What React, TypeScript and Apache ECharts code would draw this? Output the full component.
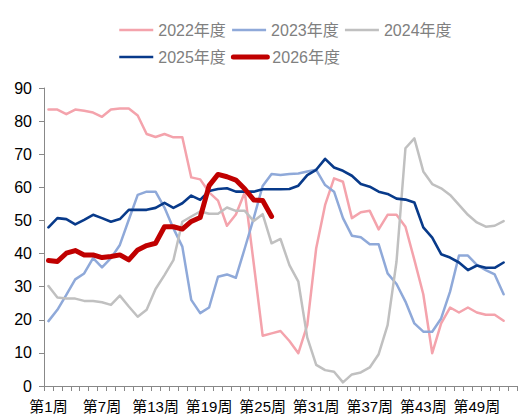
import React, { useEffect, useRef } from "react";
import * as echarts from "echarts";

// Week categories 第1周 … 第53周
const weeks: string[] = Array.from({ length: 53 }, (_, i) => `第${i + 1}周`);

const seriesNames = ["2022年度", "2023年度", "2024年度", "2025年度", "2026年度"];

const v2022 = [
  83.5, 83.5, 82.1, 83.5, 83.1, 82.6, 81.3, 83.5, 83.8, 83.8, 81.7, 76.1, 75.2,
  76.1, 75.1, 75.1, 63.0, 62.4, 58.5, 56.0, 48.4, 51.8, 58.5, 37.0, 15.2, 15.9,
  16.6, 13.6, 9.9, 18.4, 41.6, 54.7, 62.7, 61.7, 50.7, 52.5, 52.9, 47.3, 51.7,
  51.7, 48.1, 38.1, 27.7, 9.9, 18.9, 23.7, 22.2, 23.7, 22.2, 21.5, 21.5, 19.7,
];
const v2023 = [
  19.6, 23.0, 27.5, 32.2, 34.0, 38.6, 35.8, 38.6, 42.6, 50.2, 57.7, 58.7, 58.7,
  53.9, 47.6, 42.1, 26.0, 22.0, 23.7, 33.0, 33.7, 32.7, 41.6, 50.7, 60.4, 64.0,
  63.7, 64.0, 64.2, 64.8, 65.3, 60.7, 58.7, 50.7, 45.4, 44.9, 42.8, 42.8, 34.0,
  30.8, 25.5, 18.9, 16.4, 16.4, 20.4, 28.5, 39.4, 39.4, 36.6, 35.0, 33.7, 27.7,
];
const v2024 = [
  30.2, 26.7, 26.4, 26.4, 25.7, 25.7, 25.3, 24.5, 27.3, 24.0, 20.9, 23.0, 29.3,
  33.5, 38.0, 49.6, 51.2, 52.7, 52.0, 52.0, 53.9, 52.9, 52.9, 49.8, 51.9, 43.1,
  44.4, 36.5, 31.5, 14.6, 6.4, 4.8, 4.3, 1.1, 3.5, 4.1, 5.6, 9.6, 18.4, 37.6,
  71.8, 74.8, 64.8, 61.0, 59.7, 57.7, 54.7, 51.7, 49.4, 48.1, 48.4, 49.8,
];
const v2025 = [
  47.9, 50.7, 50.4, 48.8, 50.2, 51.7, 50.7, 49.6, 50.4, 53.2, 53.2, 53.2, 53.8,
  55.3, 53.8, 55.2, 57.5, 56.2, 58.9, 59.5, 59.7, 58.7, 58.7, 58.7, 59.4, 59.4,
  59.4, 59.5, 60.5, 63.7, 65.3, 68.6, 66.0, 65.0, 63.5, 61.0, 60.2, 58.7, 58.0,
  56.6, 56.3, 55.4, 47.9, 44.8, 39.8, 38.8, 37.3, 35.0, 36.4, 35.7, 35.7, 37.3,
];
const v2026 = [
  37.9, 37.6, 40.1, 40.9, 39.6, 39.6, 38.8, 39.1, 39.6, 38.1, 41.1, 42.4, 43.1,
  48.1, 48.1, 47.4, 49.7, 50.9, 60.5, 63.9, 63.2, 62.2, 59.5, 56.2, 56.0, 51.2,
];

const seriesValues = [v2022, v2023, v2024, v2025, v2026];
const seriesColors = ["#F4A3AC", "#8FA9D9", "#C0C0C0", "#083A8A", "#C00000"];
const seriesWidths = [2.5, 2.5, 2.5, 2.6, 5];

const FONT = "'Liberation Sans', 'Noto Sans CJK SC', sans-serif";

function legendItems(idx: number[]) {
  return idx.map((i) => ({
    name: seriesNames[i],
    lineStyle: {
      width: i === 4 ? 5 : 2.5,
      color: seriesColors[i],
      cap: i === 4 ? "round" : "butt",
    },
  }));
}

const legendCommon = {
  left: 113,
  orient: "horizontal",
  itemWidth: 34,
  itemHeight: 14,
  itemGap: 5,
  itemStyle: { opacity: 0 },
  textStyle: { color: "#808080", fontSize: 16, fontFamily: FONT, lineHeight: 16 },
};

export default function App() {
  const ref = useRef<HTMLDivElement>(null);

  useEffect(() => {
    if (!ref.current) return;
    const chart = echarts.init(ref.current, undefined, { renderer: "svg" });
    chart.setOption({
      animation: false,
      backgroundColor: "#ffffff",
      textStyle: { fontFamily: FONT },
      legend: [
        { ...legendCommon, top: 17, data: legendItems([0, 1, 2]) },
        { ...legendCommon, top: 44, data: legendItems([3, 4]) },
      ],
      grid: { left: 44, right: 2, top: 88, bottom: 33, containLabel: false },
      xAxis: {
        type: "category",
        data: weeks,
        boundaryGap: true,
        axisLine: { show: true, lineStyle: { color: "#888888", width: 1 } },
        axisTick: {
          show: true,
          interval: 0,
          length: 5,
          lineStyle: { color: "#888888" },
        },
        axisLabel: {
          interval: 5,
          color: "#000000",
          fontSize: 15,
          fontFamily: FONT,
          margin: 13,
        },
        splitLine: { show: false },
      },
      yAxis: {
        type: "value",
        min: 0,
        max: 90,
        interval: 10,
        axisLine: { show: true, lineStyle: { color: "#888888", width: 1 } },
        axisTick: { show: true, length: 5, lineStyle: { color: "#888888" } },
        axisLabel: {
          color: "#000000",
          fontSize: 16,
          fontFamily: FONT,
          margin: 12,
        },
        splitLine: { show: false },
      },
      series: seriesValues.map((vals, i) => ({
        name: seriesNames[i],
        type: "line",
        data: vals,
        symbol: "none",
        showSymbol: false,
        smooth: false,
        z: 2 + i,
        lineStyle: {
          color: seriesColors[i],
          width: seriesWidths[i],
          join: "round",
          cap: "round",
        },
        itemStyle: { color: seriesColors[i] },
        emphasis: { disabled: true },
      })),
    });
    return () => chart.dispose();
  }, []);

  return (
    <div
      ref={ref}
      style={{ position: "fixed", left: 0, top: 0, width: 519, height: 419 }}
    />
  );
}
